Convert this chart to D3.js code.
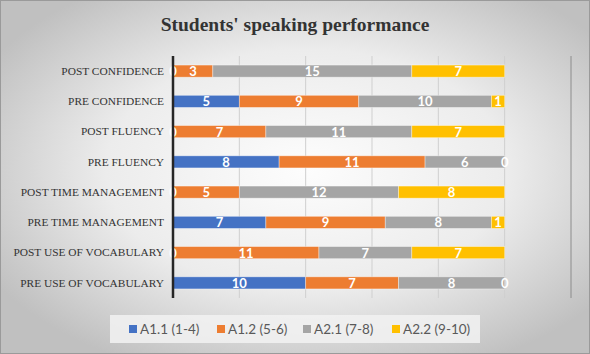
<!DOCTYPE html>
<html>
<head>
<meta charset="utf-8">
<script src="https://cdn.jsdelivr.net/npm/d3@7"></script>
<style>
  body { margin: 0; background: #fff; }
  svg { display: block; }
</style>
</head>
<body>
<svg id="chart" width="590" height="354"></svg>
<script>
// rows, top to bottom
const categories = [
  'POST CONFIDENCE', 'PRE CONFIDENCE', 'POST FLUENCY', 'PRE FLUENCY',
  'POST TIME MANAGEMENT', 'PRE TIME MANAGEMENT', 'POST USE OF VOCABULARY', 'PRE USE OF VOCABULARY'
];
const seriesNames = ['A1.1 (1-4)', 'A1.2 (5-6)', 'A2.1 (7-8)', 'A2.2 (9-10)'];
const a11 = [0, 5, 0, 8, 0, 7, 0, 10];
const a12 = [3, 9, 7, 11, 5, 9, 11, 7];
const a21 = [15, 10, 11, 6, 12, 8, 7, 8];
const a22 = [7, 1, 7, 0, 8, 1, 7, 0];
const xTicks = [0, 5, 10, 15, 20, 25, 30];

const colors = ['#4472C4', '#ED7D31', '#A5A5A5', '#FFC000'];
const W = 590, H = 354;

const svg = d3.select('#chart');

// background gradient
const defs = svg.append('defs');
const grad = defs.append('radialGradient')
  .attr('id', 'bg')
  .attr('cx', '0.52').attr('cy', '0.48').attr('r', '0.62');
grad.append('stop').attr('offset', '0').attr('stop-color', '#fdfdfd');
grad.append('stop').attr('offset', '0.55').attr('stop-color', '#ececec');
grad.append('stop').attr('offset', '1').attr('stop-color', '#c0c0c0');

svg.append('rect')
  .attr('x', 0.5).attr('y', 0.5)
  .attr('width', W - 1).attr('height', H - 1)
  .attr('fill', 'url(#bg)')
  .attr('stroke', '#9a9a9a');

svg.append('text')
  .attr('x', 295).attr('y', 31)
  .attr('text-anchor', 'middle')
  .attr('font-family', 'Liberation Serif, serif')
  .attr('font-weight', 'bold')
  .attr('font-size', 19.5)
  .attr('fill', '#333')
  .text("Students' speaking performance");

const x = d3.scaleLinear().domain([0, 30]).range([173, 571]);
const y = d3.scaleBand().domain(categories).range([56, 298]).paddingInner(0.6).paddingOuter(0.3);

// gridlines
svg.append('g')
  .selectAll('line')
  .data(xTicks.slice(1))
  .join('line')
  .attr('x1', d => x(d)).attr('x2', d => x(d))
  .attr('y1', 56).attr('y2', 298)
  .attr('stroke', d => d === 30 ? '#8c8c8c' : '#cfcfcf')
  .attr('stroke-width', 1);

// stack
const rows = categories.map((c, i) => ({ cat: c, s0: a11[i], s1: a12[i], s2: a21[i], s3: a22[i] }));
const stack = d3.stack().keys(['s0', 's1', 's2', 's3'])(rows);

const layers = svg.append('g')
  .selectAll('g')
  .data(stack)
  .join('g')
  .attr('fill', (d, i) => colors[i]);

layers.selectAll('rect')
  .data(d => d)
  .join('rect')
  .attr('x', d => x(d[0]))
  .attr('width', d => x(d[1]) - x(d[0]))
  .attr('y', d => y(d.data.cat))
  .attr('height', y.bandwidth())
  .attr('stroke', 'rgba(255,255,255,0.45)')
  .attr('stroke-width', 0.8);

// value labels
svg.append('g')
  .selectAll('g')
  .data(stack)
  .join('g')
  .selectAll('text')
  .data(d => d.map(p => ({ p, v: p[1] - p[0] })))
  .join('text')
  .attr('x', d => (x(d.p[0]) + x(d.p[1])) / 2)
  .attr('y', d => y(d.p.data.cat) + y.bandwidth() / 2 + 5)
  .attr('text-anchor', 'middle')
  .attr('font-family', 'Lato, sans-serif')
  .attr('font-weight', 'bold')
  .attr('font-size', 13)
  .attr('fill', '#fff')
  .text(d => d.v);

// category axis
const yAxis = svg.append('g')
  .attr('transform', 'translate(173,0)')
  .call(d3.axisLeft(y).tickSize(0).tickPadding(9));
yAxis.select('.domain')
  .attr('stroke', '#262626')
  .attr('stroke-width', 2.5)
  .attr('d', 'M0,56V298');
yAxis.selectAll('text')
  .attr('font-family', 'Liberation Serif, serif')
  .attr('font-size', 11.4)
  .attr('fill', '#333');

// legend
svg.append('rect')
  .attr('x', 110).attr('y', 315)
  .attr('width', 370).attr('height', 28)
  .attr('fill', '#f2f2f2').attr('opacity', 0.85);

const legendX = [129, 217, 303, 392];
const leg = svg.append('g')
  .selectAll('g')
  .data(seriesNames)
  .join('g')
  .attr('transform', (d, i) => `translate(${legendX[i]},329)`);
leg.append('rect')
  .attr('x', 0).attr('y', -4)
  .attr('width', 8).attr('height', 8)
  .attr('fill', (d, i) => colors[i]);
leg.append('text')
  .attr('x', 11).attr('y', 5)
  .attr('font-family', 'Lato, sans-serif')
  .attr('font-size', 13.5)
  .attr('fill', '#595959')
  .text(d => d);
</script>
</body>
</html>
